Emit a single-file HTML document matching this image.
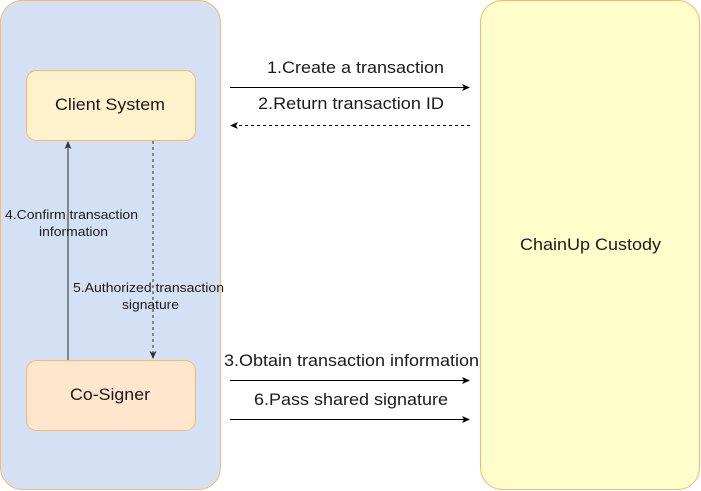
<!DOCTYPE html>
<html><head><style>
html,body{margin:0;padding:0;background:#fff;width:701px;height:491px;overflow:hidden}
svg text{font-family:"Liberation Sans",Arial,sans-serif;fill:#1a1a1a}
</style></head><body>
<svg width="701" height="491" viewBox="0 0 701 491" xmlns="http://www.w3.org/2000/svg">
<defs>
<marker id="a" markerWidth="8" markerHeight="8" refX="7" refY="4" orient="auto" markerUnits="userSpaceOnUse">
<path d="M0,0.5 L8,4 L0,7.5 L2,4 Z" fill="#000"/></marker>
<marker id="g" markerWidth="8" markerHeight="8" refX="7" refY="4" orient="auto" markerUnits="userSpaceOnUse">
<path d="M0,0.5 L8,4 L0,7.5 L2,4 Z" fill="#333"/></marker>
</defs>
<rect x="0.5" y="0.5" width="220" height="489" rx="22" fill="#D4E1F5" stroke="#FFB570"/>
<rect x="480.5" y="0.5" width="219" height="489" rx="22" fill="#FFFFCC" stroke="#FFB570"/>
<rect x="26.5" y="70.5" width="169" height="70" rx="10" fill="#FFF2CC" stroke="#FFB570"/>
<rect x="26.5" y="360.5" width="169" height="70" rx="10" fill="#FFE6CC" stroke="#FFB570"/>
<text x="55" y="110" font-size="17" textLength="110" lengthAdjust="spacingAndGlyphs">Client System</text>
<text x="70" y="400" font-size="17" textLength="80" lengthAdjust="spacingAndGlyphs">Co-Signer</text>
<text x="520" y="250" font-size="17" textLength="141" lengthAdjust="spacingAndGlyphs">ChainUp Custody</text>
<line x1="68" y1="360" x2="68" y2="142" stroke="#555" stroke-width="1.3" marker-end="url(#g)"/>
<line x1="153" y1="141" x2="153" y2="358" stroke="#555" stroke-width="1.3" stroke-dasharray="3,3" marker-end="url(#g)"/>
<text x="5" y="219" font-size="13" textLength="133" lengthAdjust="spacingAndGlyphs">4.Confirm transaction</text>
<text x="39" y="236" font-size="13" textLength="69" lengthAdjust="spacingAndGlyphs">information</text>
<text x="73" y="292" font-size="13" textLength="151" lengthAdjust="spacingAndGlyphs">5.Authorized transaction</text>
<text x="122" y="309" font-size="13" textLength="57" lengthAdjust="spacingAndGlyphs">signature</text>
<line x1="230" y1="87.5" x2="469" y2="87.5" stroke="#000" marker-end="url(#a)"/>
<line x1="470" y1="125.5" x2="231" y2="125.5" stroke="#000" stroke-dasharray="3,3" marker-end="url(#a)"/>
<line x1="230" y1="380.5" x2="469" y2="380.5" stroke="#000" marker-end="url(#a)"/>
<line x1="230" y1="419.5" x2="469" y2="419.5" stroke="#000" marker-end="url(#a)"/>
<text x="267" y="73" font-size="17" textLength="177" lengthAdjust="spacingAndGlyphs">1.Create a transaction</text>
<text x="258" y="109" font-size="17" textLength="186" lengthAdjust="spacingAndGlyphs">2.Return transaction ID</text>
<text x="224" y="366" font-size="17" textLength="255" lengthAdjust="spacingAndGlyphs">3.Obtain transaction information</text>
<text x="254" y="405" font-size="17" textLength="194" lengthAdjust="spacingAndGlyphs">6.Pass shared signature</text>
</svg>
</body></html>
